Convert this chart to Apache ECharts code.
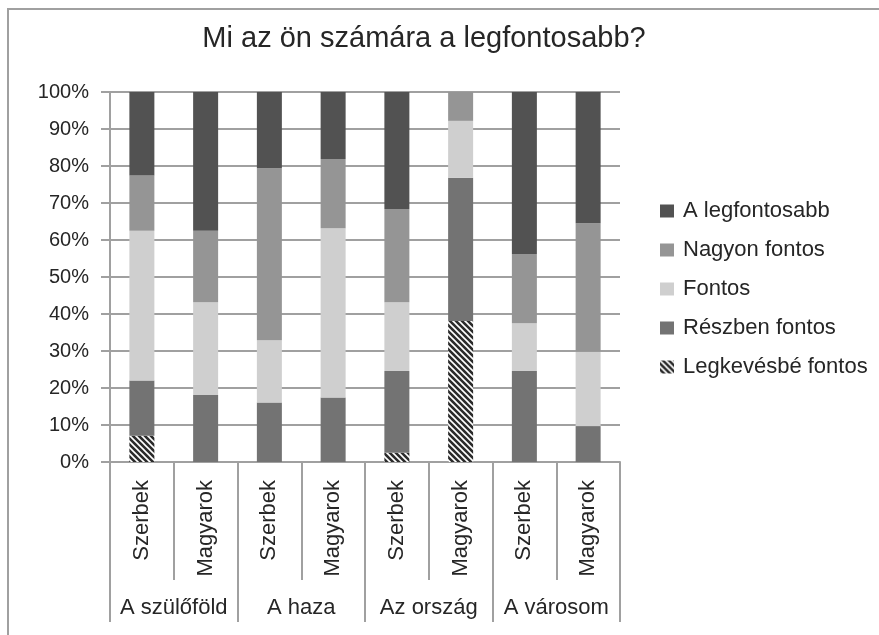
<!DOCTYPE html>
<html>
<head>
<meta charset="utf-8">
<script src="https://cdn.jsdelivr.net/npm/echarts@6/dist/echarts.min.js"></script>
<style>
  html, body { margin: 0; padding: 0; background: #fff; }
  #chart { width: 879px; height: 635px; }
</style>
</head>
<body>
<div id="chart"></div>
<script>
// bars, left to right
const groups = ['A szülőföld', 'A haza', 'Az ország', 'A városom']
const people = ['Szerbek', 'Magyarok', 'Szerbek', 'Magyarok', 'Szerbek', 'Magyarok', 'Szerbek', 'Magyarok']
const yTicks = [0, 10, 20, 30, 40, 50, 60, 70, 80, 90, 100]

// percent shares, stacked bottom to top
const legkevesbe = [7.1, 0, 0, 0, 2.5, 38.1, 0, 0]
const reszben = [14.9, 18.1, 16.1, 17.4, 22.1, 38.7, 24.6, 9.7]
const fontos = [40.5, 25.1, 16.8, 45.8, 18.6, 15.4, 12.9, 20.1]
const nagyon = [14.9, 19.3, 46.5, 18.7, 25.2, 7.8, 18.7, 34.7]
const legfontosabb = [22.6, 37.5, 20.6, 18.1, 31.6, 0, 43.8, 35.5]

const GRID = '#a0a0a0'
const TEXT = '#262626'
const FONT = 'Liberation Sans, Arial, sans-serif'

// diagonal hatch for the last category
const makeHatch = () => {
  const s = 6
  const c = document.createElement('canvas')
  c.width = s
  c.height = s
  const ctx = c.getContext('2d')
  ctx.fillStyle = '#2b2b2b'
  ctx.fillRect(0, 0, s, s)
  ctx.strokeStyle = '#ffffff'
  ctx.lineWidth = 1.6
  ctx.beginPath()
  ctx.moveTo(-1, -1); ctx.lineTo(s + 1, s + 1)
  ctx.moveTo(-1, s - 1); ctx.lineTo(1, s + 1)
  ctx.moveTo(s - 1, -1); ctx.lineTo(s + 1, 1)
  ctx.stroke()
  return c
}

const bar = (name, data, color) => ({
  name,
  type: 'bar',
  stack: 'total',
  barWidth: 25,
  data,
  itemStyle: { color },
  emphasis: { disabled: true }
})

const chart = echarts.init(document.getElementById('chart'))
chart.setOption({
  animation: false,
  textStyle: { fontFamily: FONT },
  title: {
    text: 'Mi az ön számára a legfontosabb?',
    left: 419,
    textAlign: 'center',
    top: 19,
    textStyle: { fontSize: 29, fontWeight: 'normal', color: TEXT, fontFamily: FONT }
  },
  legend: {
    data: ['A legfontosabb', 'Nagyon fontos', 'Fontos', 'Részben fontos', 'Legkevésbé fontos'],
    orient: 'vertical',
    left: 655,
    top: 195,
    icon: 'rect',
    itemWidth: 14,
    itemHeight: 13,
    itemGap: 17,
    selectedMode: false,
    textStyle: { fontSize: 22, color: TEXT, fontFamily: FONT, padding: [0, 0, 0, 4] }
  },
  grid: { left: 110, right: 259, top: 92, bottom: 173 },
  xAxis: [
    {
      type: 'category',
      data: people,
      position: 'bottom',
      axisLine: { show: true, lineStyle: { color: GRID, width: 2 } },
      axisTick: { show: true, interval: 0, length: 118, lineStyle: { color: GRID, width: 2 } },
      axisLabel: { interval: 0, rotate: 90, margin: 18, fontSize: 22, color: TEXT, fontFamily: FONT }
    },
    {
      type: 'category',
      data: groups,
      position: 'bottom',
      axisLine: { show: false },
      axisTick: { show: true, interval: 0, length: 160, lineStyle: { color: GRID, width: 2 } },
      axisLabel: { interval: 0, margin: 135, fontSize: 22, color: TEXT, fontFamily: FONT }
    }
  ],
  yAxis: {
    type: 'value',
    min: yTicks[0],
    max: yTicks[yTicks.length - 1],
    interval: 10,
    axisLine: { show: true, lineStyle: { color: GRID, width: 2 } },
    axisTick: { show: true, length: 9, lineStyle: { color: GRID, width: 2 } },
    splitLine: { show: true, lineStyle: { color: GRID, width: 2 } },
    axisLabel: { formatter: '{value}%', margin: 21, fontSize: 20, color: TEXT, fontFamily: FONT }
  },
  graphic: [
    {
      type: 'rect',
      shape: { x: 8, y: 9, width: 1000, height: 1000 },
      style: { fill: 'none', stroke: GRID, lineWidth: 2 },
      silent: true
    }
  ],
  series: [
    bar('Legkevésbé fontos', legkevesbe, { image: makeHatch(), repeat: 'repeat' }),
    bar('Részben fontos', reszben, '#737373'),
    bar('Fontos', fontos, '#cfcfcf'),
    bar('Nagyon fontos', nagyon, '#959595'),
    bar('A legfontosabb', legfontosabb, '#525252')
  ]
})
</script>
</body>
</html>
